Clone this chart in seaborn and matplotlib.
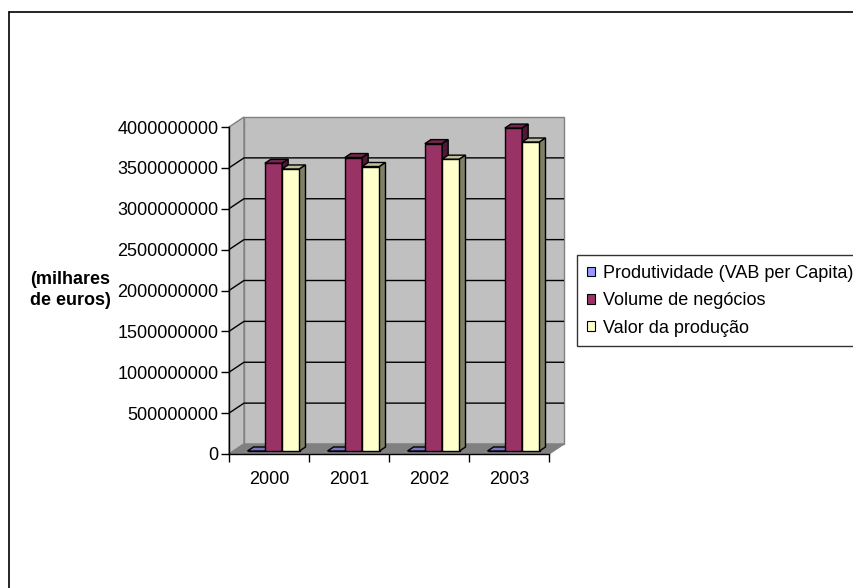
import numpy as np
import pandas as pd
import matplotlib
matplotlib.use("Agg")
import matplotlib.pyplot as plt
from matplotlib.patches import Polygon, Patch
from matplotlib.lines import Line2D
from matplotlib.colors import to_rgb
import seaborn as sns

# --- data -------------------------------------------------------------
anos = ["2000", "2001", "2002", "2003"]
series = ["Produtividade (VAB per Capita)", "Volume de negócios", "Valor da produção"]
produtividade = [21000, 22500, 23800, 25200]
volume_negocios = [3520000000, 3590000000, 3760000000, 3950000000]
valor_producao = [3450000000, 3480000000, 3570000000, 3780000000]
y_ticks = [0, 500000000, 1000000000, 1500000000, 2000000000,
           2500000000, 3000000000, 3500000000, 4000000000]
cores = ["#9999FF", "#993366", "#FFFFCC"]

df = pd.DataFrame({
    "ano": anos * 3,
    "serie": [s for s in series for _ in anos],
    "valor": produtividade + volume_negocios + valor_producao,
})

# --- figure / axes ----------------------------------------------------
W, H = 854, 588
sns.set_theme(style="white")
plt.rcParams["font.family"] = ["Liberation Sans", "DejaVu Sans"]
plt.rcParams["text.color"] = "black"
plt.rcParams["axes.labelcolor"] = "black"
FS = 13

fig = plt.figure(figsize=(W / 100, H / 100), dpi=100)
fig.patch.set_facecolor("white")
# front plane of the 3-D box in pixels: x 229..549, y 127..454
ax = fig.add_axes([229 / W, 1 - 454 / H, 320 / W, 327 / H])
ax.set_xlim(-0.5, 3.5)
ax.set_ylim(0, 4000000000)
ax.patch.set_visible(False)

# depth of the oblique projection, converted from pixels to data units
DEPTH_PX = (15, 10)
x_per_px = 4.0 / 320
y_per_px = 4000000000 / 327
DX = DEPTH_PX[0] * x_per_px
DY = DEPTH_PX[1] * y_per_px

x0, x1 = -0.5, 3.5
ytop = 4000000000

wall_col = "#C0C0C0"
floor_col = "#808080"
edge_col = "#808080"

# back wall
ax.add_patch(Polygon([(x0 + DX, DY), (x1 + DX, DY), (x1 + DX, ytop + DY), (x0 + DX, ytop + DY)],
                     closed=True, facecolor=wall_col, edgecolor=edge_col, lw=1,
                     zorder=0.5, clip_on=False))
# side wall
ax.add_patch(Polygon([(x0, 0), (x0 + DX, DY), (x0 + DX, ytop + DY), (x0, ytop)],
                     closed=True, facecolor=wall_col, edgecolor=edge_col, lw=1,
                     zorder=0.5, clip_on=False))
# floor
ax.add_patch(Polygon([(x0, 0), (x1, 0), (x1 + DX, DY), (x0 + DX, DY)],
                     closed=True, facecolor=floor_col, edgecolor=edge_col, lw=1,
                     zorder=0.5, clip_on=False))
# gridlines on the walls
for v in y_ticks[1:-1]:
    ax.plot([x0, x0 + DX, x1 + DX], [v, v + DY, v + DY], color="black", lw=1,
            zorder=0.6, clip_on=False, solid_capstyle="butt")

# --- bars --------------------------------------------------------------
sns.barplot(data=df, x="ano", y="valor", hue="serie", order=anos, hue_order=series,
            palette=cores, width=0.65, edgecolor="black", linewidth=1,
            saturation=1, legend=False, ax=ax)

BAR_OFF = 0.3      # bar front face sits 30 % into the depth
BAR_DEPTH = 0.4    # bar depth as fraction of the box depth
ox, oy = BAR_OFF * DX, BAR_OFF * DY
bx, by = BAR_DEPTH * DX, BAR_DEPTH * DY
for k, cont in enumerate(ax.containers):
    z = 2 + 0.1 * k
    for p in cont.patches:
        x, w, h = p.get_x(), p.get_width(), p.get_height()
        x = x + ox
        p.set_x(x)
        p.set_y(oy)
        p.set_zorder(z)
        p.set_clip_on(False)
        base = np.array(to_rgb(p.get_facecolor()))
        top = [(x, h + oy), (x + w, h + oy), (x + w + bx, h + oy + by), (x + bx, h + oy + by)]
        side = [(x + w, oy), (x + w, h + oy), (x + w + bx, h + oy + by), (x + w + bx, oy + by)]
        ax.add_patch(Polygon(top, closed=True, facecolor=base * 0.75, edgecolor="black",
                             lw=1, zorder=z, clip_on=False))
        ax.add_patch(Polygon(side, closed=True, facecolor=base * 0.5, edgecolor="black",
                             lw=1, zorder=z, clip_on=False))

# --- axes styling ------------------------------------------------------
for s in ["top", "right"]:
    ax.spines[s].set_visible(False)
for s in ["left", "bottom"]:
    ax.spines[s].set_color("black")
    ax.spines[s].set_linewidth(1)
    ax.spines[s].set_zorder(3)

ax.set_yticks(y_ticks)
ax.set_yticklabels([str(v) for v in y_ticks])
ax.tick_params(axis="y", left=True, length=6, width=1, color="black", pad=1.5,
               labelsize=FS, labelcolor="black")
ax.set_xticks(range(len(anos)))
ax.set_xticklabels(anos)
ax.set_xticks([x0 + i for i in range(len(anos) + 1)], minor=True)
ax.tick_params(axis="x", which="major", bottom=False, length=0, pad=12,
               labelsize=FS, labelcolor="black")
ax.tick_params(axis="x", which="minor", bottom=True, length=6, width=1, color="black")
ax.set_xlabel("")
ax.set_ylabel("")

fig.text(70 / W, 1 - 290 / H, "(milhares\nde euros)", ha="center", va="center",
         fontsize=FS, fontweight="bold", color="black", multialignment="center",
         linespacing=1.35)

# --- legend ------------------------------------------------------------
handles = [Patch(facecolor=c, edgecolor="black", lw=0.8) for c in cores]
leg = fig.legend(handles, series, loc="upper left",
                 bbox_to_anchor=(577 / W, 1 - 255 / H), frameon=True, fancybox=False,
                 edgecolor="black", fontsize=FS, handlelength=0.45, handleheight=0.45,
                 handletextpad=0.45, labelspacing=0.57, borderpad=0.55, borderaxespad=0,
                 labelcolor="black")
leg.get_frame().set_linewidth(1)
leg.get_frame().set_facecolor("white")

# --- outer frame -------------------------------------------------------
fig.add_artist(Line2D([8.5 / W, 8.5 / W], [0, 1 - 11.5 / H], color="black", lw=1.2,
                      transform=fig.transFigure))
fig.add_artist(Line2D([8.5 / W, 1], [1 - 11.5 / H, 1 - 11.5 / H], color="black", lw=1.2,
                      transform=fig.transFigure))

fig.savefig("out.png", dpi=100)
